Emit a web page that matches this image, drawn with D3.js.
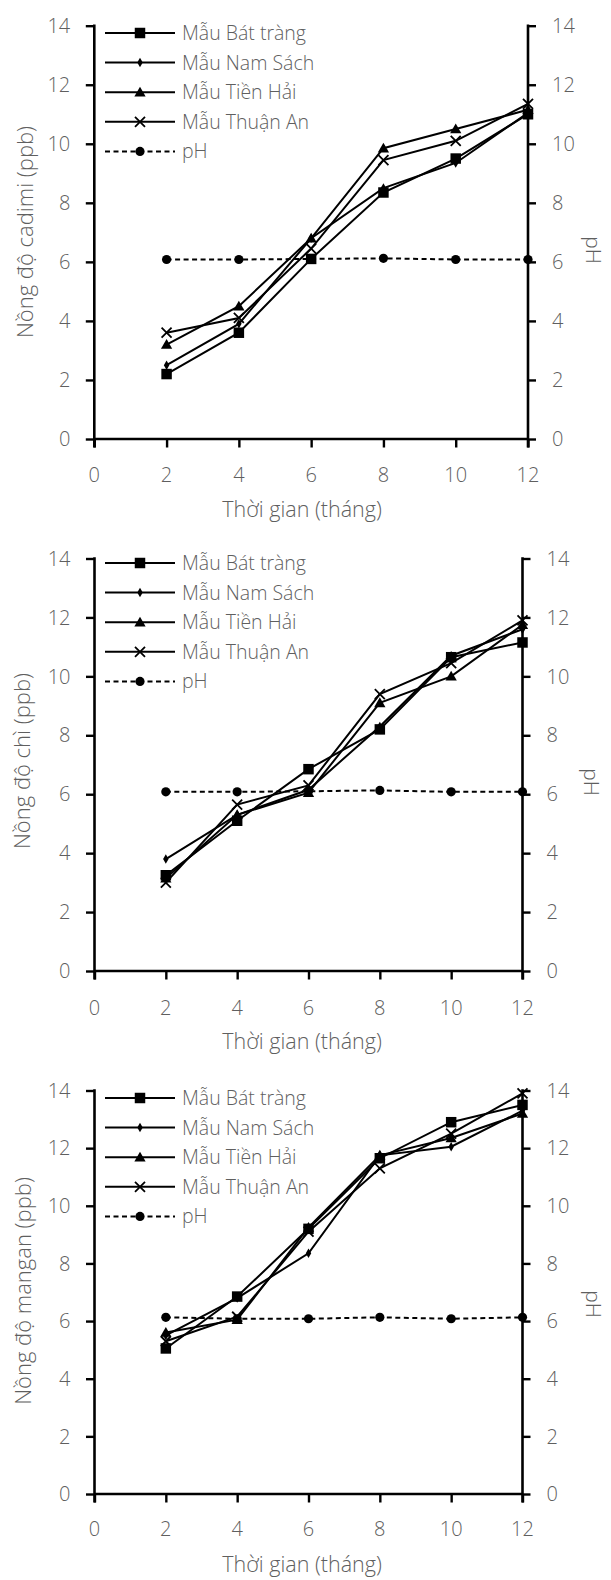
<!DOCTYPE html>
<html><head><meta charset="utf-8">
<script src="https://cdn.jsdelivr.net/npm/d3@7/dist/d3.min.js"></script>
<style>html,body{margin:0;padding:0;background:#fff;}svg{display:block;}</style>
</head><body><svg id="c" width="611" height="1580"></svg>
<script>
// ---------- data ----------
const months = [2, 4, 6, 8, 10, 12];
const seriesNames = ["Mẫu Bát tràng", "Mẫu Nam Sách", "Mẫu Tiền Hải", "Mẫu Thuận An", "pH"];
const xTicks = [0, 2, 4, 6, 8, 10, 12];
const yTicks = [0, 2, 4, 6, 8, 10, 12, 14];
const xTitle = "Thời gian (tháng)";
const rightTitle = "pH";

const cadimiBT = [2.2, 3.6, 6.1, 8.35, 9.5, 11.0];
const cadimiNS = [2.5, 3.9, 6.8, 8.5, 9.35, 11.05];
const cadimiTH = [3.2, 4.5, 6.8, 9.85, 10.5, 11.15];
const cadimiTA = [3.6, 4.1, 6.45, 9.45, 10.1, 11.35];
const cadimiPH = [6.08, 6.08, 6.1, 6.12, 6.08, 6.08];

const chiBT = [3.25, 5.1, 6.85, 8.2, 10.65, 11.15];
const chiNS = [3.8, 5.3, 6.15, 8.3, 10.7, 11.6];
const chiTH = [3.15, 5.3, 6.05, 9.1, 10.0, 11.75];
const chiTA = [3.0, 5.65, 6.3, 9.4, 10.45, 11.9];
const chiPH = [6.08, 6.08, 6.1, 6.13, 6.08, 6.08];

const manganBT = [5.05, 6.85, 9.2, 11.65, 12.9, 13.5];
const manganNS = [5.5, 6.8, 8.35, 11.75, 12.05, 13.3];
const manganTH = [5.6, 6.05, 9.25, 11.75, 12.35, 13.2];
const manganTA = [5.3, 6.15, 9.1, 11.3, 12.5, 13.9];
const manganPH = [6.13, 6.08, 6.08, 6.13, 6.08, 6.13];

const yTitles = ["Nồng độ cadimi (ppb)", "Nồng độ chì (ppb)", "Nồng độ mangan (ppb)"];
const panelData = [
  [cadimiBT, cadimiNS, cadimiTH, cadimiTA, cadimiPH],
  [chiBT, chiNS, chiTH, chiTA, chiPH],
  [manganBT, manganNS, manganTH, manganTA, manganPH]
];

// ---------- layout ----------
const layout = [
  {x0: 94.3, x1: 528, yTop: 25.7, yBot: 439, legY: 33, ylabX: 25, ylabY: 232, phX: 594, phY: 250, xLabY: 475, xTitY: 509},
  {x0: 94.5, x1: 522.5, yTop: 558.5, yBot: 971, legY: 563, ylabX: 22, ylabY: 761, phX: 592, phY: 782, xLabY: 1008, xTitY: 1041},
  {x0: 94.5, x1: 522.5, yTop: 1090.5, yBot: 1494, legY: 1098, ylabX: 23.5, ylabY: 1291, phX: 594, phY: 1304, xLabY: 1529, xTitY: 1564}
];

const FONT = "'Open Sans', 'Noto Sans', sans-serif";
const FW = 300;
const TXT = "#5f5f5f";
const svg = d3.select("#c");

function drawMarker(g, type, x, y) {
  if (type === 0) {
    g.append("path").attr("d", d3.symbol(d3.symbolSquare, 110)()).attr("transform", `translate(${x},${y})`).attr("fill", "#000");
  } else if (type === 1) {
    g.append("path").attr("d", d3.symbol(d3.symbolDiamond, 26)()).attr("transform", `translate(${x},${y})`).attr("fill", "#000");
  } else if (type === 2) {
    g.append("path").attr("d", d3.symbol(d3.symbolTriangle, 55)()).attr("transform", `translate(${x},${y + 1})`).attr("fill", "#000");
  } else if (type === 3) {
    const s = 5;
    g.append("path").attr("d", `M${x - s},${y - s}L${x + s},${y + s}M${x - s},${y + s}L${x + s},${y - s}`)
      .attr("stroke", "#000").attr("stroke-width", 1.8).attr("fill", "none");
  } else {
    g.append("circle").attr("cx", x).attr("cy", y).attr("r", 4.6).attr("fill", "#000");
  }
}

function txt(g) {
  return g.append("text").attr("font-family", FONT).attr("font-weight", FW).attr("fill", TXT);
}

layout.forEach((L, pi) => {
  const g = svg.append("g");
  const x = d3.scaleLinear().domain([0, 12]).range([L.x0, L.x1]);
  const y = d3.scaleLinear().domain([0, 14]).range([L.yBot, L.yTop]);

  // axes (ticks from d3 axes, axis lines drawn separately)
  const ax = g.append("g").attr("transform", `translate(0,${L.yBot})`)
    .call(d3.axisBottom(x).tickValues(xTicks).tickSize(8.5).tickFormat(""));
  const ayl = g.append("g").attr("transform", `translate(${L.x0},0)`)
    .call(d3.axisLeft(y).tickValues(yTicks).tickSize(8.5).tickFormat(""));
  const ayr = g.append("g").attr("transform", `translate(${L.x1},0)`)
    .call(d3.axisRight(y).tickValues(yTicks).tickSize(8).tickFormat(""));
  [ax, ayl, ayr].forEach(a => {
    a.select(".domain").remove();
    a.selectAll(".tick line").attr("stroke", "#000").attr("stroke-width", 2.4);
  });
  g.append("line").attr("x1", L.x0).attr("x2", L.x1).attr("y1", L.yBot).attr("y2", L.yBot).attr("stroke", "#000").attr("stroke-width", 2.6);
  g.append("line").attr("x1", L.x0).attr("x2", L.x0).attr("y1", L.yTop - 1.2).attr("y2", L.yBot + 8.5).attr("stroke", "#000").attr("stroke-width", 2.6);
  g.append("line").attr("x1", L.x1).attr("x2", L.x1).attr("y1", L.yTop - 1.2).attr("y2", L.yBot + 8.5).attr("stroke", "#000").attr("stroke-width", 2.6);

  // tick labels
  yTicks.forEach(v => {
    txt(g).attr("x", L.x0 - 24).attr("y", y(v)).attr("dy", "0.36em").attr("text-anchor", "end")
      .attr("font-size", 20).text(v);
    txt(g).attr("x", L.x1 + 24).attr("y", y(v)).attr("dy", "0.36em").attr("text-anchor", "start")
      .attr("font-size", 20).text(v);
  });
  xTicks.forEach(v => {
    txt(g).attr("x", x(v)).attr("y", L.xLabY).attr("dy", "0.36em").attr("text-anchor", "middle")
      .attr("font-size", 20).text(v);
  });

  // titles
  txt(g).attr("x", 302).attr("y", L.xTitY).attr("dy", "0.36em").attr("text-anchor", "middle")
    .attr("font-size", 21.5).text(xTitle);
  txt(g).attr("transform", `translate(${L.ylabX},${L.ylabY}) rotate(-90)`).attr("dy", "0.36em").attr("text-anchor", "middle")
    .attr("font-size", 22).text(yTitles[pi]);
  txt(g).attr("transform", `translate(${L.phX},${L.phY}) rotate(90)`).attr("dy", "0.36em").attr("text-anchor", "middle")
    .attr("font-size", 21).text(rightTitle);

  // series
  const line = d3.line().x((d, i) => x(months[i])).y(d => y(d));
  const order = [4, 0, 1, 2, 3];
  order.forEach(si => {
    const vals = panelData[pi][si];
    g.append("path").datum(vals).attr("d", line).attr("fill", "none").attr("stroke", "#000")
      .attr("stroke-width", 2).attr("stroke-dasharray", si === 4 ? "5,3.5" : null);
  });
  order.forEach(si => {
    const vals = panelData[pi][si];
    vals.forEach((v, i) => drawMarker(g, si, x(months[i]), y(v)));
  });

  // legend
  seriesNames.forEach((name, si) => {
    const ly = L.legY + si * 29.6;
    g.append("line").attr("x1", 105).attr("x2", 175).attr("y1", ly).attr("y2", ly).attr("stroke", "#000")
      .attr("stroke-width", 2).attr("stroke-dasharray", si === 4 ? "5,3.5" : null);
    drawMarker(g, si, 140, ly);
    txt(g).attr("x", 182).attr("y", ly).attr("dy", "0.36em").attr("font-size", 19.5).text(name);
  });
});
</script></body></html>
